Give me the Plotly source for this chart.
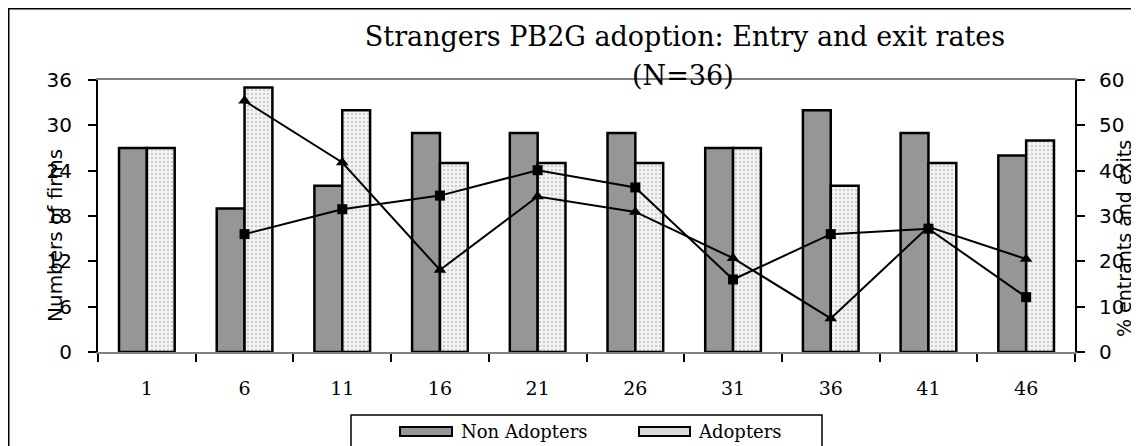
import plotly.graph_objects as go

# periods on the x axis
periods = ["1", "6", "11", "16", "21", "26", "31", "36", "41", "46"]

# numbers of firms (left axis)
non_adopters = [27, 19, 22, 29, 29, 29, 27, 32, 29, 26]
adopters = [27, 35, 32, 25, 25, 25, 27, 22, 25, 28]

# percentage rates (right axis)
entrants_pct = [None, 55.4, 41.8, 18.1, 34.3, 30.9, 20.7, 7.4, 27.6, 20.5]
exits_pct = [None, 26.0, 31.5, 34.5, 40.1, 36.3, 16.0, 26.0, 27.2, 12.1]

left_ticks = [0, 6, 12, 18, 24, 30, 36]
right_ticks = [0, 10, 20, 30, 40, 50, 60]

# the page adds an 8px body margin, so the figure is 8px smaller than the window
OFF = 8
W, H = 1139 - OFF, 446 - OFF
L, T = 98 - OFF, 80 - OFF
R, B = W - (1075 - OFF), H - (352 - OFF)
PW, PH = W - L - R, H - T - B

SERIF = "DejaVu Serif"
SANS = "DejaVu Sans"
GRAY = "#969696"
LIGHT = "#dcdcdc"


def px_x(px):
    # screen pixel -> paper x
    return (px - OFF - L) / PW


def px_y(py):
    # screen pixel -> paper y
    return (H - B - (py - OFF)) / PH


fig = go.Figure()
fig.add_bar(
    x=periods, y=non_adopters, name="Non Adopters",
    marker=dict(color=GRAY, line=dict(color="black", width=2.5)),
)
fig.add_bar(
    x=periods, y=adopters, name="Adopters",
    marker=dict(
        color="white", line=dict(color="black", width=2.5),
        pattern=dict(shape=".", size=4, solidity=0.3, fgcolor="#a8a8a8", bgcolor="#f4f4f4"),
    ),
)
fig.add_scatter(
    x=periods, y=entrants_pct, yaxis="y2", mode="lines+markers", name="Entrants",
    line=dict(color="black", width=2),
    marker=dict(symbol="triangle-up", size=11, color="black"),
)
fig.add_scatter(
    x=periods, y=exits_pct, yaxis="y2", mode="lines+markers", name="Exits",
    line=dict(color="black", width=2),
    marker=dict(symbol="square", size=10, color="black"),
)

fig.update_layout(
    width=W, height=H,
    margin=dict(l=L, r=R, t=T, b=B, autoexpand=False),
    paper_bgcolor="white", plot_bgcolor="white",
    showlegend=False,
    barmode="group", bargap=0.43, bargroupgap=0,
    title=dict(
        text="Strangers PB2G adoption: Entry and exit rates",
        x=(685 - OFF) / W, xanchor="center", y=1 - (37 - OFF) / H, yanchor="middle",
        font=dict(family=SERIF, size=27, color="black"),
    ),
    xaxis=dict(
        type="category", range=[-0.5, len(periods) - 0.5],
        showline=True, linecolor="#808080", linewidth=2, mirror=True,
        ticks="outside", tickson="boundaries", ticklen=8, tickcolor="black", tickwidth=1.5,
        ticklabelstandoff=18, showgrid=False, zeroline=False,
        tickfont=dict(family=SERIF, size=19, color="black"),
    ),
    yaxis=dict(
        range=[0, 36], tickvals=left_ticks, showline=True, linecolor="black", linewidth=2,
        ticks="outside", ticklen=8, tickcolor="black", tickwidth=1.5,
        ticklabelstandoff=12, showgrid=False, zeroline=False,
        tickfont=dict(family=SANS, size=20, color="black"),
    ),
    yaxis2=dict(
        range=[0, 60], tickvals=right_ticks, overlaying="y", side="right",
        showline=True, linecolor="black", linewidth=2,
        ticks="outside", ticklen=8, tickcolor="black", tickwidth=1.5,
        ticklabelstandoff=10, showgrid=False, zeroline=False,
        tickfont=dict(family=SANS, size=20, color="black"),
    ),
)

annotations = [
    dict(text="(N=36)", x=px_x(683), y=px_y(75), font=dict(family=SERIF, size=27)),
    dict(text="Numbers of firms", x=px_x(55), y=px_y(236), textangle=-90,
         font=dict(family=SANS, size=20)),
    dict(text="% entrants and exits", x=px_x(1124), y=px_y(239), textangle=-90,
         font=dict(family=SANS, size=19)),
    dict(text="Non Adopters", x=px_x(459), y=px_y(431), xanchor="left",
         font=dict(family=SERIF, size=18)),
    dict(text="Adopters", x=px_x(696), y=px_y(431), xanchor="left",
         font=dict(family=SERIF, size=18)),
]
for a in annotations:
    a.setdefault("xanchor", "center")
    a.update(xref="paper", yref="paper", yanchor="middle", showarrow=False)
    a["font"]["color"] = "black"
    fig.add_annotation(**a)

# outer chart frame and legend box
fig.add_shape(type="rect", xref="paper", yref="paper",
              x0=px_x(OFF + 0.75), x1=px_x(1160), y0=px_y(470), y1=px_y(OFF + 0.75),
              line=dict(color="black", width=1.5), layer="below")
fig.add_shape(type="rect", xref="paper", yref="paper",
              x0=px_x(351), x1=px_x(822), y0=px_y(470), y1=px_y(415),
              line=dict(color="black", width=1.5))
fig.add_shape(type="rect", xref="paper", yref="paper",
              x0=px_x(400), x1=px_x(452), y0=px_y(436), y1=px_y(427),
              fillcolor=GRAY, line=dict(color="black", width=2))
fig.add_shape(type="rect", xref="paper", yref="paper",
              x0=px_x(639), x1=px_x(690), y0=px_y(436), y1=px_y(427),
              fillcolor=LIGHT, line=dict(color="black", width=2))

fig.write_html("out.html")
